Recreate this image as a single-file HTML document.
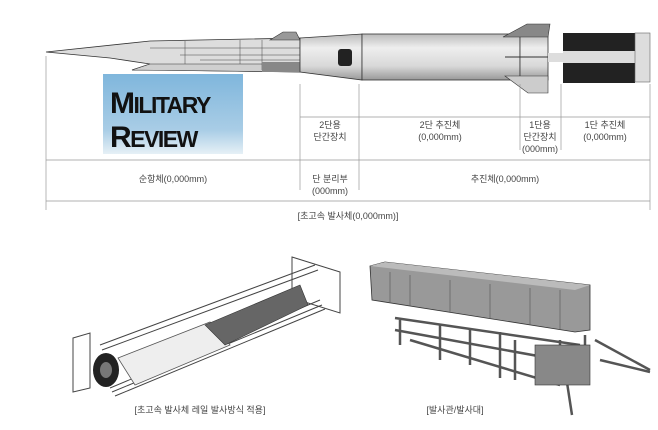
<!DOCTYPE html>
<html><head><meta charset="utf-8"><style>
html,body{margin:0;padding:0;background:#fff;}
svg{display:block;}
text{font-family:"Liberation Sans","Noto Sans CJK KR",sans-serif;fill:#444;}
</style></head><body>
<svg width="658" height="430" viewBox="0 0 658 430" xmlns="http://www.w3.org/2000/svg">
<defs>
<linearGradient id="cyl" x1="0" y1="0" x2="0" y2="1">
<stop offset="0" stop-color="#bbb"/><stop offset="0.3" stop-color="#eee"/><stop offset="0.7" stop-color="#d8d8d8"/><stop offset="1" stop-color="#999"/></linearGradient>
<linearGradient id="sky" x1="0" y1="0" x2="0" y2="1">
<stop offset="0" stop-color="#7fb6dc"/><stop offset="0.7" stop-color="#a9cde6"/><stop offset="1" stop-color="#e6f0f6"/></linearGradient>
</defs>
<!-- cruise body -->
<polygon points="46,52 150,41 300,38 300,72 155,70 132,70 150,64 110,58" fill="#ddd" stroke="#333" stroke-width="0.8"/>
<polygon points="132,70 150,64 300,64 300,72" fill="#cfcfcf" stroke="#333" stroke-width="0.6"/>
<g stroke="#444" stroke-width="0.5">
<line x1="150" y1="48" x2="300" y2="48"/><line x1="180" y1="55" x2="300" y2="55"/><line x1="200" y1="60" x2="300" y2="60"/>
<line x1="185" y1="41" x2="185" y2="64"/><line x1="240" y1="40" x2="240" y2="64"/><line x1="262" y1="40" x2="262" y2="70"/></g>
<polygon points="270,40 283,32 296,32 300,40" fill="#999" stroke="#333" stroke-width="0.6"/>
<rect x="262" y="62" width="38" height="10" fill="#888"/>
<!-- transition -->
<polygon points="300,38 362,34 362,80 300,72" fill="url(#cyl)" stroke="#333" stroke-width="0.8"/>
<rect x="338" y="49" width="14" height="17" rx="3" fill="#222"/>
<!-- 2nd stage -->
<rect x="362" y="34" width="158" height="46" fill="url(#cyl)" stroke="#333" stroke-width="0.8"/>
<rect x="520" y="34" width="28" height="46" fill="url(#cyl)" stroke="#333" stroke-width="0.8"/>
<line x1="505" y1="57" x2="548" y2="57" stroke="#333"/>
<polygon points="503,37 527,24 550,24 548,37" fill="#888" stroke="#333" stroke-width="0.6"/>
<polygon points="505,76 548,76 548,93 528,93" fill="#ccc" stroke="#333" stroke-width="0.6"/>
<rect x="548" y="53" width="16" height="9" fill="#ddd"/>
<!-- 1st stage -->
<rect x="563" y="33" width="72" height="50" fill="#222"/>
<rect x="563" y="51" width="72" height="12" fill="#ddd"/>
<rect x="635" y="33" width="15" height="49" fill="#ddd" stroke="#666" stroke-width="0.6"/>
<!-- logo -->
<rect x="103" y="74" width="140" height="80" fill="url(#sky)"/>
<g style="font-family:'Liberation Sans',sans-serif;font-weight:bold;" fill="#111">
<text x="110" y="113" style="fill:#111;font-size:23px;letter-spacing:-1.5px"><tspan style="font-size:30px">M</tspan>ILITARY</text>
<text x="110" y="147" style="fill:#111;font-size:23px;letter-spacing:-1.5px"><tspan style="font-size:30px">R</tspan>EVIEW</text>
</g>
<!-- dimension lines -->
<g stroke="#999" stroke-width="0.7">
<line x1="46" y1="56" x2="46" y2="210"/><line x1="300" y1="84" x2="300" y2="190"/><line x1="359" y1="84" x2="359" y2="190"/>
<line x1="520" y1="84" x2="520" y2="150"/><line x1="561" y1="84" x2="561" y2="150"/><line x1="650" y1="84" x2="650" y2="210"/>
<line x1="300" y1="117" x2="650" y2="117"/><line x1="46" y1="160" x2="650" y2="160"/><line x1="46" y1="201" x2="650" y2="201"/></g>
<g font-size="9" text-anchor="middle">
<text x="330" y="128">2단용</text><text x="330" y="140">단간장치</text>
<text x="440" y="128">2단 추진체</text><text x="440" y="140">(0,000mm)</text>
<text x="540" y="128">1단용</text><text x="540" y="140">단간장치</text><text x="540" y="152">(000mm)</text>
<text x="605" y="128">1단 추진체</text><text x="605" y="140">(0,000mm)</text>
<text x="173" y="182">순항체(0,000mm)</text>
<text x="330" y="182">단 분리부</text><text x="330" y="194">(000mm)</text>
<text x="505" y="182">추진체(0,000mm)</text>
<text x="348" y="219">[초고속 발사체(0,000mm)]</text>
<text x="200" y="413">[초고속 발사체 레일 발사방식 적용]</text>
<text x="455" y="413">[발사관/발사대]</text>
</g>
<!-- rail launcher -->
<g stroke="#444" stroke-width="1" fill="none">
<polygon points="73,338 90,333 90,388 73,392"/>
<polygon points="292,257 340,272 340,313 292,298"/>
<line x1="100" y1="345" x2="315" y2="265"/><line x1="102" y1="350" x2="318" y2="270"/>
<line x1="110" y1="388" x2="320" y2="300"/><line x1="112" y1="392" x2="322" y2="305"/><line x1="115" y1="396" x2="325" y2="309"/>
</g>
<polygon points="118,358 210,322 230,345 135,385" fill="#eee" stroke="#555" stroke-width="0.8"/>
<polygon points="205,325 300,285 308,305 225,345" fill="#666" stroke="#333" stroke-width="0.6"/>
<ellipse cx="106" cy="370" rx="13" ry="17" fill="#222"/><ellipse cx="106" cy="370" rx="6" ry="8" fill="#777"/>
<!-- box launcher -->
<polygon points="370,266 385,262 590,285 590,330 575,332 372,300" fill="#999" stroke="#333" stroke-width="0.8"/>
<polygon points="370,266 385,262 590,285 575,290" fill="#bbb"/>
<g stroke="#555" stroke-width="0.6">
<line x1="390" y1="272" x2="390" y2="302"/><line x1="410" y1="275" x2="410" y2="306"/><line x1="450" y1="280" x2="450" y2="312"/><line x1="490" y1="284" x2="490" y2="318"/><line x1="530" y1="288" x2="530" y2="325"/><line x1="560" y1="290" x2="560" y2="330"/></g>
<g stroke="#555" stroke-width="2.5" fill="none">
<line x1="400" y1="320" x2="400" y2="345"/><line x1="440" y1="325" x2="440" y2="360"/><line x1="470" y1="330" x2="470" y2="365"/><line x1="500" y1="332" x2="500" y2="378"/>
<line x1="515" y1="340" x2="515" y2="380"/>
<line x1="560" y1="340" x2="560" y2="385"/><line x1="585" y1="335" x2="585" y2="375"/><line x1="562" y1="350" x2="572" y2="415"/>
<line x1="595" y1="340" x2="650" y2="370"/><line x1="600" y1="360" x2="650" y2="372"/>
<line x1="395" y1="318" x2="580" y2="345"/><line x1="395" y1="330" x2="560" y2="360"/><line x1="410" y1="340" x2="560" y2="385"/>
</g>
<rect x="535" y="345" width="55" height="40" fill="#888" stroke="#333" stroke-width="0.6"/>
</svg>
</body></html>
